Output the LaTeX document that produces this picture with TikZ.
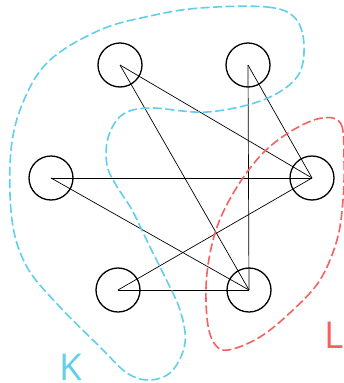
\documentclass[tikz,border=0pt]{standalone}
\usepackage{fontspec}
\setsansfont{Open Sans}
\definecolor{kblue}{RGB}{95,208,235}
\definecolor{lred}{RGB}{250,95,95}

\begin{document}
\begin{tikzpicture}[x=1pt,y=-1pt,
  vert/.style={draw,circle,line width=1.3pt,minimum size=44pt,inner sep=0pt},
  edge/.style={line width=0.7pt},
  blob/.style={line width=1.6pt,dash pattern=on 9pt off 3.5pt},
  lab/.style={font=\sffamily\fontsize{37}{37}\selectfont,inner sep=0pt,anchor=base west}]
  \useasboundingbox (0,0) rectangle (343,383);
  % vertices
  \node[vert] (tl) at (120,65) {};
  \node[vert] (tr) at (248,65) {};
  \node[vert] (ml) at (51,178) {};
  \node[vert] (mr) at (312,178) {};
  \node[vert] (bl) at (118,290) {};
  \node[vert] (br) at (249,290) {};
  % edges
  \draw[edge] (tl.center) -- (mr.center); \draw[edge] (tl.center) -- (br.center);
  \draw[edge] (tr.center) -- (mr.center); \draw[edge] (tr.center) -- (br.center);
  \draw[edge] (ml.center) -- (mr.center); \draw[edge] (ml.center) -- (br.center);
  \draw[edge] (bl.center) -- (mr.center); \draw[edge] (bl.center) -- (br.center);
  % the two sets
  \draw[blob,kblue] plot[smooth cycle,tension=0.6] coordinates {
    (200,8) (267,7) (295,18) (304,45) (297,77) (263,100) (207,112) (150,108)
    (122,115) (108,138) (107,165) (116,185) (132,210) (148,243) (164,275)
    (180,310) (185,343) (172,371) (150,380) (127,373) (100,347) (60,307)
    (27,267) (12,220) (11,150) (24,100) (50,60) (100,30) (150,16)};
  \draw[blob,lred] plot[smooth cycle,tension=0.6] coordinates {
    (322,118) (341,124) (344,160) (343,200) (337,240) (320,280) (293,310)
    (260,337) (228,350) (214,343) (207,318) (207,273) (217,227) (237,187)
    (263,153) (293,130)};
  % labels
  \node[lab,kblue] (klab) at (59,380) {K};
  \node[lab,lred] (llab) at (324,348) {L};
\end{tikzpicture}
\end{document}
